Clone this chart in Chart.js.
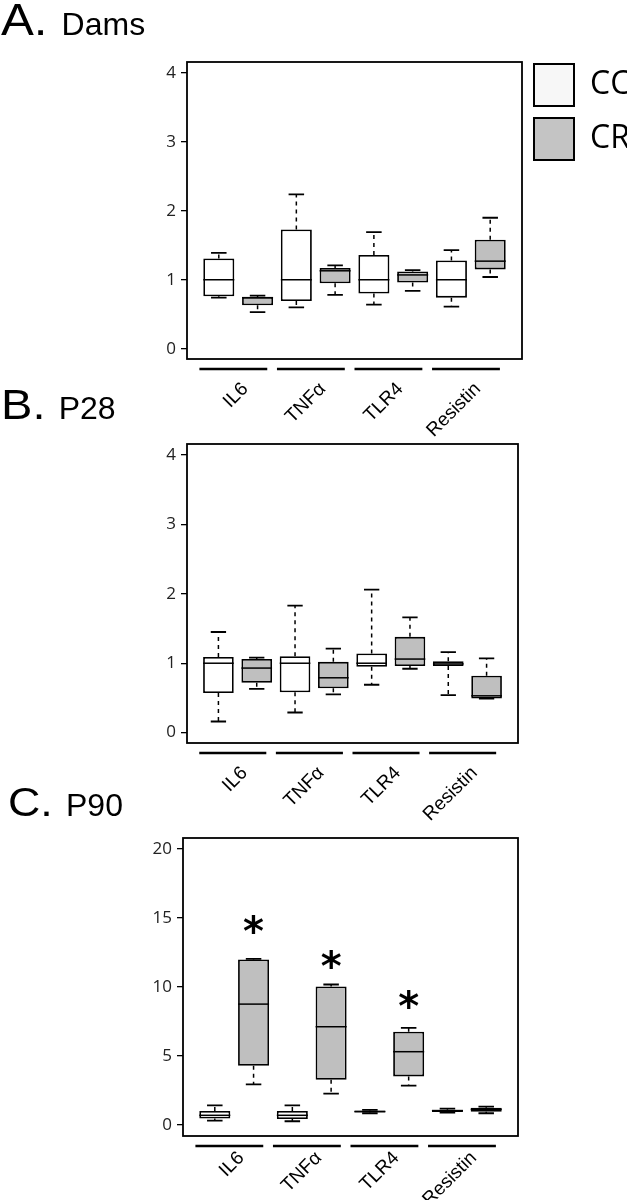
<!DOCTYPE html>
<html>
<head>
<meta charset="utf-8">
<script src="https://cdn.jsdelivr.net/npm/chart.js@4.4.1/dist/chart.umd.min.js"></script>
<style>
  body { margin: 0; background: #fff; }
  #page { position: relative; width: 632px; height: 1200px; overflow: hidden; background: #fff; }
  canvas { position: absolute; left: 0; }
  .ttl { position: absolute; white-space: nowrap; line-height: 50px; color: #000;
         font-family: 'Liberation Sans', Arial, sans-serif; z-index: 2; }
  .ttl .big { display: inline-block; transform: scaleX(1.12); transform-origin: left center; }
  .ttl .sub { font-size: 32px; }
</style>
</head>
<body>
<div id="page">
  <canvas id="chartDams" width="632" height="450" style="top:0px"></canvas>
  <canvas id="chartP28" width="632" height="420" style="top:420px"></canvas>
  <canvas id="chartP90" width="632" height="410" style="top:790px"></canvas>

  <div class="ttl" style="left:1px;top:-5px"><span class="big" style="font-size:44px">A.</span><span class="sub" style="margin-left:19px">Dams</span></div>
  <div class="ttl" style="left:1px;top:380px"><span class="big" style="font-size:42px">B.</span><span class="sub" style="margin-left:18px">P28</span></div>
  <div class="ttl" style="left:8px;top:777px"><span class="big" style="font-size:40px">C.</span><span class="sub" style="margin-left:18px">P90</span></div>
</div>

<script>
const genes = [ 'IL6', 'TNFα', 'TLR4', 'Resistin' ];
const groupNames = [ 'CC', 'CR' ];
const groupFill = [ '#ffffff', '#bfbfbf' ];
const legendFill = [ '#f7f7f7', '#c4c4c4' ];

// each row: [ lower whisker, Q1, median, Q3, upper whisker ] for IL6, TNFα, TLR4, Resistin
const damsCC = [
    [ 0.74, 0.76, 1.00, 1.31, 1.39 ],
    [ 0.60, 0.69, 1.00, 1.73, 2.24 ],
    [ 0.64, 0.80, 1.00, 1.36, 1.69 ],
    [ 0.61, 0.74, 1.00, 1.28, 1.43 ],
];
const damsCR = [
    [ 0.53, 0.63, 0.74, 0.75, 0.77 ],
    [ 0.78, 0.95, 1.13, 1.17, 1.21 ],
    [ 0.84, 0.96, 1.07, 1.12, 1.14 ],
    [ 1.04, 1.15, 1.27, 1.58, 1.90 ],
];
const p28CC = [
    [ 0.16, 0.57, 1.00, 1.09, 1.45 ],
    [ 0.29, 0.58, 1.00, 1.10, 1.83 ],
    [ 0.69, 0.95, 1.00, 1.14, 2.06 ],
    [ 0.54, 0.96, 0.99, 1.03, 1.16 ],
];
const p28CR = [
    [ 0.63, 0.72, 0.93, 1.06, 1.08 ],
    [ 0.55, 0.64, 0.79, 1.02, 1.21 ],
    [ 0.92, 0.96, 1.06, 1.38, 1.66 ],
    [ 0.49, 0.49, 0.53, 0.82, 1.07 ],
];
const p90CC = [
    [ 0.31, 0.46, 0.70, 1.01, 1.42 ],
    [ 0.27, 0.43, 0.70, 1.01, 1.42 ],
    [ 0.85, 0.90, 0.97, 1.04, 1.10 ],
    [ 0.89, 0.94, 1.04, 1.10, 1.18 ],
];
const p90CR = [
    [ 2.94, 4.29, 8.76, 11.99, 12.04 ],
    [ 2.27, 3.28, 7.12, 10.04, 10.18 ],
    [ 2.85, 3.52, 5.31, 6.76, 7.04 ],
    [ 0.85, 0.96, 1.13, 1.25, 1.33 ],
];

// significance asterisks over the CR boxes (height in axis units)
const p90Stars = [ 14.6, 12.06, 9.1, null ];

const yTicksSmall = [ 0, 1, 2, 3, 4 ];
const yTicksP90 = [ 0, 5, 10, 15, 20 ];

Chart.defaults.font.family = "'Open Sans', sans-serif";
Chart.defaults.color = '#222';

// whiskers, medians, the frame, gene underlines and asterisks
const boxPlotExtras = {
    id: 'boxPlotExtras',
    afterDatasetsDraw( chart ) {
        let ctx = chart.ctx;
        let yScale = chart.scales.y;
        ctx.save();
        ctx.strokeStyle = '#000';
        chart.data.datasets.forEach( function( ds, d ) {
            let meta = chart.getDatasetMeta( d );
            meta.data.forEach( function( bar, i ) {
                let s = ds.stats[ i ];
                let half = bar.width / 2;
                let yLo = yScale.getPixelForValue( s[ 0 ] );
                let yQ1 = yScale.getPixelForValue( s[ 1 ] );
                let yMed = yScale.getPixelForValue( s[ 2 ] );
                let yQ3 = yScale.getPixelForValue( s[ 3 ] );
                let yHi = yScale.getPixelForValue( s[ 4 ] );
                // dashed whiskers
                ctx.lineWidth = 1.5;
                ctx.setLineDash( [ 4, 4 ] );
                ctx.beginPath();
                ctx.moveTo( bar.x, yQ3 ); ctx.lineTo( bar.x, yHi );
                ctx.moveTo( bar.x, yQ1 ); ctx.lineTo( bar.x, yLo );
                ctx.stroke();
                // staples
                ctx.setLineDash( [] );
                ctx.lineWidth = 1.8;
                ctx.beginPath();
                ctx.moveTo( bar.x - half / 2, yHi ); ctx.lineTo( bar.x + half / 2, yHi );
                ctx.moveTo( bar.x - half / 2, yLo ); ctx.lineTo( bar.x + half / 2, yLo );
                ctx.stroke();
                // median
                ctx.lineWidth = 1.5;
                ctx.beginPath();
                ctx.moveTo( bar.x - half, yMed ); ctx.lineTo( bar.x + half, yMed );
                ctx.stroke();
            } );
        } );
        ctx.restore();
    },
    afterDraw( chart, args, opts ) {
        let ctx = chart.ctx;
        let area = chart.chartArea;
        let xScale = chart.scales.x;
        let yScale = chart.scales.y;
        ctx.save();
        ctx.strokeStyle = '#000';
        ctx.lineWidth = 1.8;
        ctx.strokeRect( area.left, area.top, area.right - area.left, area.bottom - area.top );

        ctx.lineWidth = 2.5;
        genes.forEach( function( g, i ) {
            let centre = 2 * i + 1.5;
            let y = area.bottom + 10;
            ctx.beginPath();
            ctx.moveTo( xScale.getPixelForValue( centre - 1.0 ), y );
            ctx.lineTo( xScale.getPixelForValue( centre + 0.75 ), y );
            ctx.stroke();
        } );

        ( opts.stars || [] ).forEach( function( v, i ) {
            if ( v === null ) return;
            ctx.font = "bold 40px 'DejaVu Sans', sans-serif";
            ctx.fillStyle = '#000';
            ctx.textAlign = 'center';
            ctx.textBaseline = 'alphabetic';
            let m = ctx.measureText( '*' );
            let x = xScale.getPixelForValue( 2 * i + 2 );
            let y = yScale.getPixelForValue( v ) + ( m.actualBoundingBoxAscent - m.actualBoundingBoxDescent ) / 2;
            ctx.fillText( '*', x, y );
        } );
        ctx.restore();
    }
};

function makeBoxChart( canvasId, ccStats, crStats, yMin, yMax, yTicks, padding, axisHeight, labelPad, withLegend, stars ) {

    let ctx = document.getElementById( canvasId ).getContext( '2d' );

    return new Chart( ctx, {
        type: 'bar',
        data: {
            datasets: [ ccStats, crStats ].map( function( stats, g ) {
                return {
                    label: groupNames[ g ],
                    data: stats.map( ( s, i ) => ( { x: 2 * i + 1 + g, y: [ s[ 1 ], s[ 3 ] ] } ) ),
                    stats: stats,
                    backgroundColor: groupFill[ g ],
                    borderColor: '#000',
                    borderWidth: 1.8,
                    borderSkipped: false,
                    grouped: false,
                    barPercentage: 0.8,
                    categoryPercentage: 1,
                };
            } ),
        },
        options: {
            responsive: false,
            animation: false,
            events: [],
            layout: { padding: padding },
            scales: {
                x: {
                    type: 'linear',
                    min: 0.18,
                    max: 8.82,
                    offset: false,
                    grid: { display: false },
                    border: { display: false },
                    afterBuildTicks: s => { s.ticks = genes.map( ( g, i ) => ( { value: 2 * i + 1.5 } ) ); },
                    afterFit: s => { s.height = axisHeight; },
                    ticks: {
                        autoSkip: false,
                        minRotation: 45,
                        maxRotation: 45,
                        padding: labelPad,
                        labelOffset: 7,
                        color: '#000',
                        font: { family: "'Liberation Sans', Arial, sans-serif", size: 19 },
                        callback: v => genes[ ( v - 1.5 ) / 2 ],
                    },
                },
                y: {
                    min: yMin,
                    max: yMax,
                    grid: { drawOnChartArea: false, tickLength: 6, color: '#000', lineWidth: 1.3 },
                    border: { display: false },
                    afterBuildTicks: s => { s.ticks = yTicks.map( v => ( { value: v } ) ); },
                    afterFit: s => { s.width = 30; },
                    ticks: { padding: 5, color: '#222', font: { size: 17 } },
                },
            },
            plugins: {
                tooltip: { enabled: false },
                // empty title only pushes the plot below the legend's top edge
                title: { display: withLegend, text: '', padding: 0, font: { size: 5, lineHeight: 2 } },
                legend: {
                    display: withLegend,
                    position: 'right',
                    align: 'start',
                    maxWidth: 105,
                    labels: {
                        boxWidth: 40,
                        boxHeight: 42,
                        padding: 12,
                        color: '#000',
                        font: { size: 32 },
                        generateLabels: chart => chart.data.datasets.map( ( ds, i ) => ( {
                            text: ds.label,
                            fillStyle: legendFill[ i ],
                            strokeStyle: '#000',
                            lineWidth: 2,
                            datasetIndex: i,
                            hidden: false,
                        } ) ),
                    },
                },
                boxPlotExtras: { stars: stars },
            },
        },
        plugins: [ boxPlotExtras ],
    } );

}

makeBoxChart( 'chartDams', damsCC, damsCR, -0.15, 4.16, yTicksSmall,
    { left: 157, top: 52, right: 5, bottom: 11 }, 80, 11, true, [] );
makeBoxChart( 'chartP28', p28CC, p28CR, -0.15, 4.16, yTicksSmall,
    { left: 157, top: 24, right: 114, bottom: 17 }, 80, 11, false, [] );
makeBoxChart( 'chartP90', p90CC, p90CR, -0.8, 20.8, yTicksP90,
    { left: 153, top: 48, right: 114, bottom: 0 }, 64, 3, false, p90Stars );
</script>
</body>
</html>
